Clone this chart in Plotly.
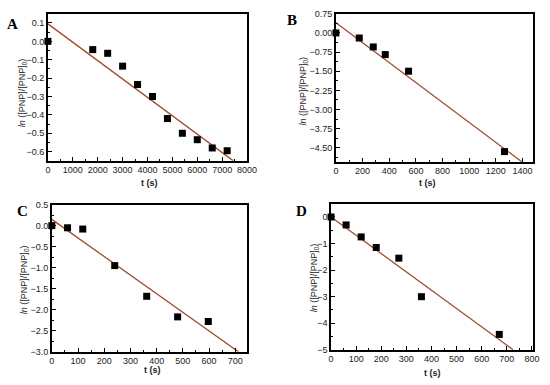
import plotly.graph_objects as go

# Panel A
a_t = [0, 1800, 2400, 3000, 3600, 4200, 4800, 5400, 6000, 6600, 7200]
a_y = [0, -0.045, -0.065, -0.135, -0.235, -0.30, -0.42, -0.50, -0.535, -0.58, -0.595]
a_fit_t = [0, 7450]
a_fit_y = [0.095, -0.65]

# Panel B
b_t = [0, 175, 280, 370, 545, 1265]
b_y = [0, -0.2, -0.55, -0.85, -1.5, -4.65]
b_fit_t = [0, 1395]
b_fit_y = [0.40, -5.05]

# Panel C
c_t = [0, 60, 118, 240, 362, 480, 597]
c_y = [0, -0.05, -0.08, -0.95, -1.68, -2.17, -2.28]
c_fit_t = [0, 712]
c_fit_y = [0.15, -3.0]

# Panel D
d_t = [0, 60, 120, 180, 270, 360, 670]
d_y = [0, -0.3, -0.75, -1.15, -1.55, -3.0, -4.42]
d_fit_t = [0, 725]
d_fit_y = [0.0, -5.0]

panel_labels = ["A", "B", "C", "D"]
x_title = "t (s)"
y_title = "<i>ln</i> ([PNP]/[PNP]<sub>0</sub>)"

W, H = 550, 385
LINE_COLOR = "#A34A2E"
FONT = "Liberation Sans, Arial, sans-serif"

def px_x(v):
    return v / W

def px_y(v):
    return 1 - v / H

panels = [
    dict(t=a_t, y=a_y, ft=a_fit_t, fy=a_fit_y, box=(46, 250, 9, 160),
         xr=[0, 8000], xd=1000, xm=500, yr=[-0.65, 0.15], yd=0.1, y0=0, ym=0.05, yf=".1f",
         lab=(10, 20), yt=(20, 90), xt=(150, 183)),
    dict(t=b_t, y=b_y, ft=b_fit_t, fy=b_fit_y, box=(341, 543, 9, 161),
         xr=[0, 1480], xd=200, xm=100, yr=[-5.05, 0.75], yd=0.75, y0=0, ym=0.375, yf=".2f",
         lab=(296, 15), yt=(308, 88), xt=(435, 183)),
    dict(t=c_t, y=c_y, ft=c_fit_t, fy=c_fit_y, box=(50, 250, 205, 356),
         xr=[0, 745], xd=100, xm=50, yr=[-3.0, 0.5], yd=0.5, y0=0, ym=0.25, yf=".1f",
         lab=(20, 212), yt=(22, 282), xt=(153, 375)),
    dict(t=d_t, y=d_y, ft=d_fit_t, fy=d_fit_y, box=(336, 543, 204, 354),
         xr=[0, 805], xd=100, xm=50, yr=[-5.0, 0.5], yd=1, y0=0, ym=0.5, yf="d",
         lab=(306, 212), yt=(319, 280), xt=(440, 378)),
]

fig = go.Figure()
annotations = []
layout_axes = {}
for i, p in enumerate(panels):
    n = i + 1
    xa = "x" if n == 1 else f"x{n}"
    ya = "y" if n == 1 else f"y{n}"
    fig.add_trace(go.Scatter(x=p["ft"], y=p["fy"], mode="lines",
                             line=dict(color=LINE_COLOR, width=1.3),
                             xaxis=xa, yaxis=ya, showlegend=False, hoverinfo="skip"))
    fig.add_trace(go.Scatter(x=p["t"], y=p["y"], mode="markers",
                             marker=dict(symbol="square", size=7, color="black"),
                             xaxis=xa, yaxis=ya, showlegend=False, cliponaxis=False))
    x0, x1, y0, y1 = p["box"]
    common = dict(showline=True, linecolor="black", linewidth=1.5, mirror=True,
                  ticks="inside", ticklen=4, tickwidth=1, tickcolor="black",
                  showgrid=False, zeroline=False,
                  tickfont=dict(family=FONT, size=9, color="#222"))
    layout_axes[f"xaxis{'' if n == 1 else n}"] = dict(
        domain=[px_x(x0), px_x(x1)], range=p["xr"], anchor=ya,
        dtick=p["xd"], tick0=0,
        minor=dict(dtick=p["xm"], ticks="inside", ticklen=2, tickcolor="black"),
        **common)
    layout_axes[f"yaxis{'' if n == 1 else n}"] = dict(
        domain=[px_y(y1), px_y(y0)], range=p["yr"], anchor=xa,
        dtick=p["yd"], tick0=p["y0"], tickformat=p["yf"],
        minor=dict(dtick=p["ym"], tick0=p["y0"], ticks="inside", ticklen=2, tickcolor="black"),
        **common)
    annotations.append(dict(text=f"<b>{panel_labels[i]}</b>", x=px_x(p["lab"][0]), y=px_y(p["lab"][1]),
                            xref="paper", yref="paper", showarrow=False, xanchor="center", yanchor="middle",
                            font=dict(family="Liberation Serif, Times New Roman, serif", size=15, color="black")))
    annotations.append(dict(text=y_title, x=px_x(p["yt"][0]), y=px_y(p["yt"][1]),
                            xref="paper", yref="paper", showarrow=False, textangle=-90,
                            xanchor="center", yanchor="middle",
                            font=dict(family=FONT, size=9, color="#222")))
    annotations.append(dict(text=f"<b>{x_title}</b>", x=px_x(p["xt"][0]), y=px_y(p["xt"][1]),
                            xref="paper", yref="paper", showarrow=False,
                            xanchor="center", yanchor="middle",
                            font=dict(family=FONT, size=9, color="#222")))

fig.update_layout(width=W, height=H, margin=dict(l=0, r=0, t=0, b=0),
                  paper_bgcolor="white", plot_bgcolor="white",
                  annotations=annotations, **layout_axes)

fig.write_html("out.html", config={"displayModeBar": False},
               post_script="document.body.style.margin='0';document.body.style.overflow='hidden';")
